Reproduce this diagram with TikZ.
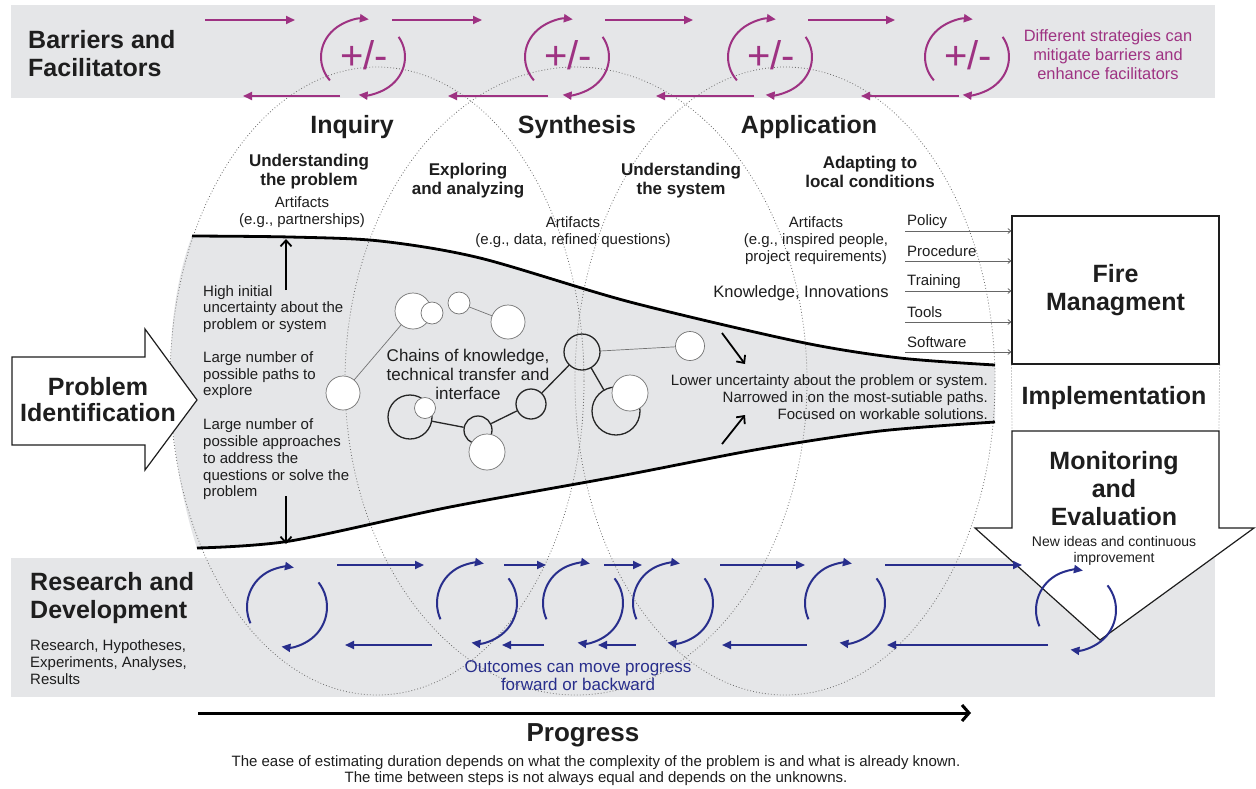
\documentclass[tikz,border=0pt]{standalone}
\usepackage{fontspec}
\setmainfont{Liberation Sans}
\usetikzlibrary{arrows.meta}
\definecolor{band}{RGB}{229,230,232}
\definecolor{mag}{RGB}{158,50,130}
\definecolor{navy}{RGB}{40,46,140}
\definecolor{ink}{RGB}{30,30,30}
\definecolor{dotc}{RGB}{110,110,110}
\newcommand\cycarcs[9]{%
  \draw[#9] (#1,#2) ++(#5:#3 and #4) arc[start angle=#5,end angle=#6,x radius=#3,y radius=#4];
  \draw[#9] (#1,#2) ++(#7:#3 and #4) arc[start angle=#7,end angle=#8,x radius=#3,y radius=#4];}
\tikzset{
  every node/.style={inner sep=0pt, text=ink},
  hd/.style={font=\fontsize{25}{28}\selectfont\bfseries},
  sb/.style={font=\fontsize{17}{19}\selectfont\bfseries, align=center},
  tx/.style={font=\fontsize{15}{17}\selectfont},
  ell/.style={draw=dotc, line width=0.8pt, dash pattern=on 0.8pt off 2.2pt},
  magarr/.style={draw=mag, line width=2pt, -{Triangle[length=9pt,width=8pt]}},
  navarr/.style={draw=navy, line width=2pt, -{Triangle[length=9pt,width=8pt]}},
  wc/.style={circle, draw=black!55, line width=0.7pt, fill=white},
  bc/.style={circle, draw=black!85, line width=1.3pt},
  chainln/.style={draw=black!85, line width=1.3pt},
  grayln/.style={draw=black!55, line width=0.7pt},
  barb/.style={line width=1.8pt, -{Straight Barb[length=6pt,width=11pt]}},
  thinarr/.style={draw=black!60, line width=0.8pt, -{Straight Barb[length=3pt,width=5pt]}},
  funnelln/.style={line width=2.8pt, draw=black},
}
\begin{document}
\begin{tikzpicture}[x=1pt,y=-1pt]
\path[use as bounding box] (0,0) rectangle (1256,788);
\fill[white] (0,0) rectangle (1256,788);
% bands
\fill[band] (11,5) rectangle (1215,98);
\fill[band] (11,558) rectangle (1215,697);
% funnel
\fill[band] plot[smooth,tension=.5] coordinates {(192,236) (290,237) (380,241) (480,258) (630,302) (800,342) (900,358) (995,365)}
  -- plot[smooth,tension=.5] coordinates {(995,422) (880,431) (760,449) (620,476) (450,507) (290,541) (197,548)}
  .. controls (165,450) and (160,320) .. (192,236) -- cycle;
% dotted ellipses
\draw[ell] (377,381) ellipse [x radius=207, y radius=314];
\draw[ell] (576,381) ellipse [x radius=231, y radius=314];
\draw[ell] (785,381) ellipse [x radius=210, y radius=314];
% funnel outlines
\draw[funnelln] plot[smooth,tension=.5] coordinates {(192,236) (290,237) (380,241) (480,258) (630,302) (800,342) (900,358) (995,365)};
\draw[funnelln] plot[smooth,tension=.5] coordinates {(197,548) (290,541) (450,507) (620,476) (760,449) (880,431) (995,422)};
% chains of circles
\node[wc, minimum size=34pt] (A) at (343,393) {};
\node[wc, minimum size=36pt] (B) at (413,311) {};
\node[wc, minimum size=22pt] (C) at (432,313) {};
\node[wc, minimum size=22pt] (D) at (459,303) {};
\node[wc, minimum size=34pt] (E) at (508,322) {};
\node[bc, minimum size=44pt] (F) at (410,417) {};
\node[wc, minimum size=21pt] (G) at (425,408) {};
\node[bc, minimum size=28pt] (H) at (478,430) {};
\node[wc, minimum size=36pt] (I) at (487,452) {};
\node[bc, minimum size=30pt] (J) at (531,404) {};
\node[bc, minimum size=36pt] (K) at (582,352) {};
\node[wc, minimum size=29pt] (L) at (690,346) {};
\node[bc, minimum size=48pt] (M) at (616,411) {};
\node[wc, minimum size=36pt] (N) at (630,393) {};
\draw[grayln] (A) -- (B);
\draw[grayln] (D) -- (E);
\draw[chainln] (F) -- (H);
\draw[chainln] (H) -- (J);
\draw[chainln] (J) -- (K);
\draw[grayln] (K) -- (L);
\draw[chainln] (K) -- (M);
% headings
\node[hd] (inq) at (352,127) {Inquiry};
\node[hd] (syn) at (577,127) {Synthesis};
\node[hd] (app) at (809,127) {Application};
\node[sb] (s1) at (309,172) {Understanding\\the problem};
\node[sb] (s2) at (468,181) {Exploring\\and analyzing};
\node[sb] (s3) at (681,181) {Understanding\\the system};
\node[sb] (s4) at (870,172) {Adapting to\\local conditions};
\node[tx, align=center] (a1) at (302,212) {Artifacts\\(e.g., partnerships)};
\node[tx, align=center] (a2) at (573,232) {Artifacts\\(e.g., data, refined questions)};
\node[tx, align=center] (a3) at (816,241) {Artifacts\\(e.g., inspired people,\\project requirements)};
\node[font=\fontsize{16.5}{19}\selectfont] (kn) at (801,293) {Knowledge, Innovations};
% left funnel texts
\node[tx, align=left, anchor=west, font=\fontsize{15}{16.5}\selectfont] (l1) at (203,309) {High initial\\uncertainty about the\\problem or system};
\node[tx, align=left, anchor=west, font=\fontsize{15}{16.5}\selectfont] (l2) at (203,375.5) {Large number of\\possible paths to\\explore};
\node[tx, align=left, anchor=west, font=\fontsize{15}{16.7}\selectfont] (l3) at (203,459.5) {Large number of\\possible approaches\\to address the\\questions or solve the\\problem};
\coordinate (u1) at (286,290); \coordinate (u2) at (286,239);
\draw[barb] (u1) -- (u2);
\coordinate (d1) at (286,496); \coordinate (d2) at (286,544);
\draw[barb] (d1) -- (d2);
\node[font=\fontsize{17}{19}\selectfont, align=center] (ch) at (468,374) {Chains of knowledge,\\technical transfer and\\interface};
% right funnel texts
\coordinate (r1) at (722,333); \coordinate (r2) at (745,364);
\draw[barb] (r1) -- (r2);
\coordinate (r3) at (722,444); \coordinate (r4) at (745,415);
\draw[barb] (r3) -- (r4);
\node[tx, align=right, anchor=east] (lo) at (988,397) {Lower uncertainty about the problem or system.\\Narrowed in on the most-sutiable paths.\\Focused on workable solutions.};
% fire management
\node[draw=ink, line width=1.2pt, minimum width=207pt, minimum height=148pt, hd, align=center] (fire) at (1115.5,290) {Fire\\Managment};
\foreach \lab/\yy [count=\i] in {Policy/231, Procedure/261, Training/291, Tools/322, Software/352} {
  \coordinate (ps\i) at (905,\yy);
  \draw[thinarr] (ps\i) -- (ps\i -| fire.west);
  \node[tx, anchor=west] (pl\i) at (907,\yy-9.5) {\lab};
}
\node[hd] (impl) at (1114,398) {Implementation};
\coordinate (mtl) at (1012,431); \coordinate (mtr) at (1219,431);
\draw[ell] (fire.south west) -- (mtl);
\draw[ell] (fire.south east) -- (mtr);
\draw[line width=1.2pt, draw=ink, fill=white] (mtl) -- (mtr) -- (1219,528) -- (1254,528) -- (1100,640) -- (975,528) -- (1012,528) -- cycle;
\node[hd, align=center, font=\fontsize{25}{28}\selectfont\bfseries] (mon) at (1114,489) {Monitoring\\and\\Evaluation};
\node[font=\fontsize{14}{16}\selectfont, align=center] (ni) at (1114,551) {New ideas and continuous\\improvement};
% top band
\node[hd, align=left, anchor=west] (bf) at (28,54) {Barriers and\\Facilitators};
\node[font=\fontsize{16.4}{19}\selectfont, text=mag, align=center] (ds) at (1108,55) {Different strategies can\\mitigate barriers and\\enhance facilitators};
\foreach \a/\b [count=\i] in {205/295, 392/482, 605/693, 808/895} {
  \coordinate (tf\i) at (\a,20); \coordinate (tg\i) at (\b,20);
  \draw[magarr] (tf\i) -- (tg\i);
}
\foreach \a/\b [count=\i] in {340/243, 548/448, 754/656, 959/861} {
  \coordinate (tb\i) at (\a,96); \coordinate (tc\i) at (\b,96);
  \draw[magarr] (tb\i) -- (tc\i);
}
\foreach \cx [count=\i] in {363,567,770,967} {
  \cycarcs{\cx}{57}{42}{38}{-218}{-82}{-32}{96}{magarr}
  \node[font=\fontsize{40}{44}\selectfont, text=mag] (pm\i) at (\cx+1,55) {+/-};
}
% bottom band
\node[hd, align=left, anchor=west] (rd) at (30,598) {Research and\\Development};
\node[tx, align=left, anchor=west] (rh) at (30,662) {Research, Hypotheses,\\Experiments, Analyses,\\Results};
\foreach \a/\b [count=\i] in {337/424, 504/546, 604/642, 720/805, 885/1022} {
  \coordinate (bf\i) at (\a,565); \coordinate (bg\i) at (\b,565);
  \draw[navarr] (bf\i) -- (bg\i);
}
\foreach \a/\b [count=\i] in {432/345, 544/502, 636/598, 807/722, 1048/887} {
  \coordinate (bb\i) at (\a,645); \coordinate (bc\i) at (\b,645);
  \draw[navarr] (bb\i) -- (bc\i);
}
\foreach \cx/\cy in {287/607, 477/603, 583/603, 673/603, 845/603, 1076/610} {
  \cycarcs{\cx}{\cy}{40}{40}{-204}{-80}{-38}{98}{navarr}
}
\node[font=\fontsize{17}{18}\selectfont, text=navy, align=center] (oc) at (578,676) {Outcomes can move progress\\forward or backward};
% problem identification
\draw[line width=1.2pt, draw=ink, fill=white] (12,357) -- (145,357) -- (145,329) -- (197,400) -- (145,470) -- (145,445) -- (12,445) -- cycle;
\node[hd, align=center, font=\fontsize{25}{26}\selectfont\bfseries] (pi) at (98,400) {Problem\\Identification};
% progress
\coordinate (pg1) at (198,713); \coordinate (pg2) at (971,713);
\draw[line width=3pt, -{Straight Barb[length=7pt,width=16pt]}] (pg1) -- (pg2);
\node[font=\fontsize{26}{28}\selectfont\bfseries] (prog) at (583,735) {Progress};
\node[font=\fontsize{15}{16}\selectfont, align=center] (ease) at (596,771) {The ease of estimating duration depends on what the complexity of the problem is and what is already known.\\The time between steps is not always equal and depends on the unknowns.};
\end{tikzpicture}
\end{document}
